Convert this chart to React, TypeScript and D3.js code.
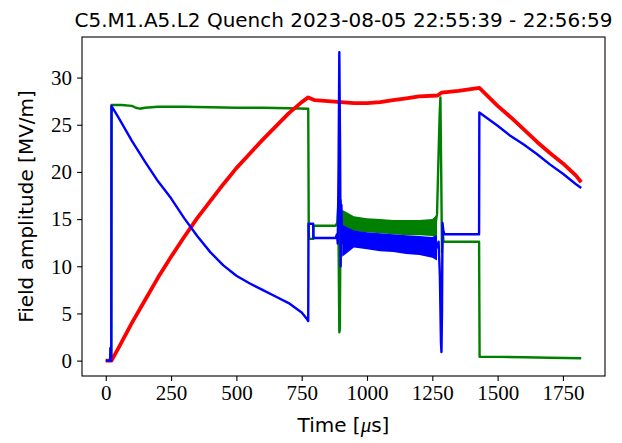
import React, { useRef, useEffect } from 'react'
import * as d3 from 'd3'

// times in µs, amplitudes in MV/m
const redT = [0, 22, 24, 50, 100, 150, 200, 250, 300, 350, 400, 450, 500, 550, 600, 650, 700, 750, 775, 800, 850, 900, 950, 1000, 1050, 1100, 1150, 1200, 1270, 1285, 1350, 1430, 1500, 1550, 1600, 1650, 1700, 1750, 1800, 1820]
const redV = [0, 0, 0.1, 1.4, 4.0, 6.4, 8.8, 11.0, 13.1, 15.1, 16.9, 18.7, 20.4, 21.9, 23.4, 24.8, 26.2, 27.4, 27.9, 27.6, 27.5, 27.4, 27.3, 27.3, 27.4, 27.6, 27.8, 28.0, 28.1, 28.4, 28.6, 28.9, 27.0, 25.8, 24.5, 23.2, 22.0, 20.9, 19.6, 18.9]

const greenT = [0, 17, 18, 19, 21, 22, 60, 100, 115, 130, 150, 200, 300, 400, 500, 600, 700, 775, 777, 778, 794, 795, 880, 886, 890, 894, 896, 899, 903, 907, 912, 950, 1000, 1100, 1200, 1260, 1268, 1274, 1278, 1281, 1284, 1287, 1290, 1293, 1429, 1431, 1500, 1600, 1700, 1820]
const greenV = [0, 0, 1.3, 0, 0, 27.1, 27.1, 27.0, 26.8, 26.7, 26.8, 26.9, 26.9, 26.85, 26.8, 26.8, 26.75, 26.7, 14.0, 12.9, 12.9, 14.3, 14.3, 14.6, 16.5, 3.0, 3.3, 17.0, 12.8, 15.6, 14.6, 14.5, 14.4, 14.2, 14.1, 14.1, 15.5, 22, 26, 27.9, 20, 11.5, 13.6, 12.6, 12.6, 0.4, 0.4, 0.35, 0.3, 0.25]

const blueT = [0, 17, 18, 19, 21, 22, 24, 50, 100, 150, 200, 250, 300, 350, 400, 450, 500, 550, 600, 650, 700, 750, 770, 775, 776, 794, 795, 880, 885, 888, 891, 894, 897, 899, 902, 905, 950, 1100, 1250, 1268, 1274, 1279, 1283, 1285, 1287, 1289, 1292, 1296, 1429, 1430, 1500, 1550, 1600, 1650, 1700, 1750, 1800, 1820]
const blueV = [0, 0, 1.35, 0, 0, 27.0, 26.9, 25.7, 23.3, 21.1, 19.0, 17.2, 15.1, 13.2, 11.5, 10.1, 9.0, 8.2, 7.5, 6.8, 6.1, 5.1, 4.4, 4.2, 14.5, 14.5, 13.0, 13.0, 13.4, 12.4, 20, 32.7, 22, 10.0, 16.5, 12.5, 12.9, 12.45, 12.0, 12.0, 12.6, 9, 2, 0.9, 5, 14.6, 13.8, 13.4, 13.4, 26.3, 24.9, 23.8, 22.9, 21.9, 20.8, 19.8, 18.7, 18.3]

// noisy stretch between the two spikes: envelope of the oscillation
const bandT = [905, 950, 1000, 1050, 1100, 1150, 1200, 1250, 1268]
const greenHi = [16.0, 15.3, 15.1, 15.0, 14.9, 14.9, 14.9, 15.0, 15.5]
const greenLo = [13.4, 13.7, 13.6, 13.5, 13.4, 13.3, 13.3, 13.2, 13.0]
const blueHi = [14.4, 13.8, 13.6, 13.5, 13.4, 13.3, 13.2, 13.1, 13.3]
const blueLo = [11.0, 12.0, 11.8, 11.6, 11.5, 11.3, 11.2, 10.9, 10.6]

const xTicks = [0, 250, 500, 750, 1000, 1250, 1500, 1750]
const yTicks = [0, 5, 10, 15, 20, 25, 30]

const title = 'C5.M1.A5.L2 Quench 2023-08-05 22:55:39 - 22:56:59'

export default function App() {
    const svgRef = useRef<SVGSVGElement>(null)

    useEffect(() => {
        const svg = d3.select(svgRef.current)
        svg.selectAll('*').remove()

        const left = 82, right = 605, top = 37, bottom = 376
        const x = d3.scaleLinear().domain([-91, 1911]).range([left, right])
        const y = d3.scaleLinear().domain([-1.63, 34.3]).range([bottom, top])

        const line = d3.line<[number, number]>()
            .x(d => x(d[0]))
            .y(d => y(d[1]))

        const band = d3.area<[number, number, number]>()
            .x(d => x(d[0]))
            .y0(d => y(d[1]))
            .y1(d => y(d[2]))

        const plot = svg.append('g')

        // green first, red over it, blue on top
        plot.append('path')
            .attr('d', band(d3.zip(bandT, greenLo, greenHi) as any))
            .attr('fill', 'green')
        plot.append('path')
            .attr('d', line(d3.zip(greenT, greenV) as any))
            .attr('fill', 'none').attr('stroke', 'green').attr('stroke-width', 2.4)
            .attr('stroke-linejoin', 'round')

        plot.append('path')
            .attr('d', line(d3.zip(redT, redV) as any))
            .attr('fill', 'none').attr('stroke', 'red').attr('stroke-width', 3.8)
            .attr('stroke-linejoin', 'round')

        plot.append('path')
            .attr('d', band(d3.zip(bandT, blueLo, blueHi) as any))
            .attr('fill', 'blue')
        plot.append('path')
            .attr('d', line(d3.zip(blueT, blueV) as any))
            .attr('fill', 'none').attr('stroke', 'blue').attr('stroke-width', 2.4)
            .attr('stroke-linejoin', 'round')

        // axes
        const xAxis = d3.axisBottom(x).tickValues(xTicks).tickFormat(d3.format('d')).tickSize(4.9).tickPadding(4)
        const yAxis = d3.axisLeft(y).tickValues(yTicks).tickFormat(d3.format('d')).tickSize(4.9).tickPadding(5)

        const gx = svg.append('g').attr('transform', `translate(0, ${bottom})`).call(xAxis)
        const gy = svg.append('g').attr('transform', `translate(${left}, 0)`).call(yAxis)

        for (const g of [gx, gy]) {
            g.select('.domain').remove()
            g.selectAll('line').attr('stroke', 'black').attr('stroke-width', 1.1)
            g.selectAll('text')
                .attr('fill', 'black')
                .style('font-family', '"Liberation Serif", serif')
                .style('font-size', '21px')
        }

        svg.append('rect')
            .attr('x', left).attr('y', top)
            .attr('width', right - left).attr('height', bottom - top)
            .attr('fill', 'none').attr('stroke', 'black').attr('stroke-width', 1.1)

        const sans = '"DejaVu Sans", sans-serif'

        svg.append('text')
            .attr('x', (left + right) / 2).attr('y', 27)
            .attr('text-anchor', 'middle')
            .style('font-family', sans).style('font-size', '20px')
            .text(title)

        const xl = svg.append('text')
            .attr('x', (left + right) / 2).attr('y', 432)
            .attr('text-anchor', 'middle')
            .style('font-family', sans).style('font-size', '20px')
        xl.append('tspan').text('Time [')
        xl.append('tspan')
            .style('font-family', '"Liberation Serif", serif')
            .style('font-style', 'italic')
            .style('font-size', '21px')
            .text('\u03bc')
        xl.append('tspan').text('s]')

        svg.append('text')
            .attr('transform', `translate(33, ${(top + bottom) / 2}) rotate(-90)`)
            .attr('text-anchor', 'middle')
            .style('font-family', sans).style('font-size', '20px')
            .text('Field amplitude [MV/m]')
    }, [])

    return (
        <svg ref={svgRef} width={622} height={443}
            style={{ position: 'absolute', left: 0, top: 0, background: 'white' }} />
    )
}
